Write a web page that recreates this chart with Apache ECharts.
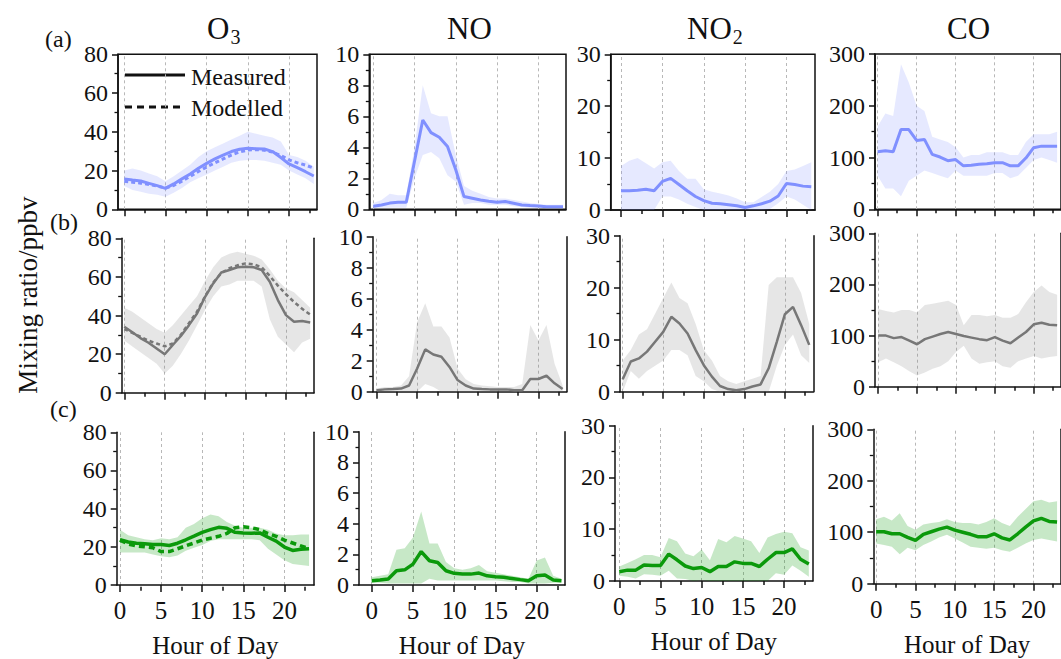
<!DOCTYPE html>
<html><head><meta charset="utf-8">
<script src="https://cdn.jsdelivr.net/npm/echarts@6/dist/echarts.min.js"></script>
<style>html,body{margin:0;padding:0;background:#fff;}#c{width:1061px;height:659px;}</style>
</head><body><div id="c"></div>
<script>
// ---------------- data ----------------
const hours = [0,1,2,3,4,5,6,7,8,9,10,11,12,13,14,15,16,17,18,19,20,21,22,23];
const xTickValues = [0,5,10,15,20];
const xMinorValues = [2.5,7.5,12.5,17.5,22.5];
const speciesKeys = ['O3','NO','NO2','CO'];
const speciesMain = ['O','NO','NO','CO'];
const speciesSub = ['3','','2',''];
const yMaxes = [80,10,30,300];
const yIntervals = [20,2,10,100];
const rowLabels = ['(a)','(b)','(c)'];
const legendNames = ['Measured','Modelled'];
const yAxisTitle = 'Mixing ratio/ppbv';
const xAxisTitle = 'Hour of Day';

// row (a)
const aO3Meas = [15.7,15.1,14.6,13.4,12.2,10.8,13.1,15.7,18.2,21.2,23.7,26.0,28.0,29.8,31.0,31.5,31.3,31.1,29.8,26.7,23.4,21.5,19.4,17.2];
const aO3Mod  = [14.5,14.0,13.5,12.8,12.0,11.0,12.3,14.5,17.0,19.5,21.8,24.0,26.0,28.0,29.6,30.6,30.8,30.5,29.5,27.8,25.5,24.0,22.8,21.3];
const aO3Lo   = [12,10,9,8,7.5,6.5,8.5,11,14,16,18,20,22,24,25,25.5,25.5,25,24,23,20,18,16,13];
const aO3Hi   = [20,21,20,18.5,17,14.5,17,20,23,27,30,32,34,36,38,40,39,38,37,35,28,27,25,22];
const aNOMeas = [0.2,0.28,0.4,0.45,0.45,3.1,5.76,4.95,4.65,4.05,2.55,0.82,0.71,0.6,0.52,0.45,0.5,0.39,0.28,0.24,0.22,0.17,0.17,0.17];
const aNOLo   = [0.05,0.1,0.1,0.1,0.1,2.0,3.5,3.7,3.3,2.2,1.8,0.3,0.4,0.4,0.3,0.3,0.3,0.2,0.15,0.1,0.1,0.1,0.1,0.1];
const aNOHi   = [0.4,0.6,1.0,0.9,0.9,4.0,8.0,6.2,6.0,6.0,3.5,1.5,1.2,1.0,0.8,0.7,0.7,0.6,0.5,0.4,0.35,0.3,0.3,0.3];
const aNO2Meas = [3.7,3.7,3.8,4.0,3.7,5.5,6.1,4.9,3.7,2.6,1.8,1.3,1.2,1.0,0.8,0.5,0.8,1.2,1.7,2.7,5.1,4.9,4.6,4.5];
const aNO2Lo   = [0,0,0,0,0,2.6,2.6,2.0,1.2,0.6,0,0,0,0,0,0,0,0,0.2,1.3,2.6,2.0,1.0,0];
const aNO2Hi   = [8.5,9.5,10,9,8,9.2,9.5,7.5,6,6,4,3.5,3.2,2.8,2.2,1.5,1.5,2.5,3.5,5,7.5,7.8,8.5,9.2];
const aCOMeas = [111,113,111,154,154,133,135,106,101,94,96,84,85,87,88,90,90,84,84,99,119,122,122,122];
const aCOLo   = [65,40,40,25,55,65,75,70,65,60,75,65,65,65,65,70,70,60,65,80,95,100,95,90];
const aCOHi   = [160,185,180,280,245,200,190,140,135,130,120,100,105,105,110,110,110,105,105,130,145,145,145,150];

// row (b)
const bO3Meas = [34.2,31.3,28.3,25.9,22.9,19.9,24.7,29.4,35,41,49.7,56.6,62.3,63.6,65,65.3,65,63.6,57.5,48,40.2,36.8,37.1,36.4];
const bO3Mod  = [33,31,29,27,25.5,24,25.5,30,36,42,50,57,62,64.5,66,67,66.5,65,60.5,55.5,51,47,43.5,40.5];
const bO3Lo   = [27,24,21,18,15,10,14,20,27,35,43,50,55,56,58,58,58,55,38,29,25,21,26,28];
const bO3Hi   = [44,42,39,36,33,31,35,40,45,50,58,65,70,72,73,72,71,69,64,58,54,52,48,44];
const bNOMeas = [0.1,0.15,0.17,0.2,0.4,1.5,2.73,2.4,2.26,1.6,0.75,0.4,0.2,0.17,0.15,0.15,0.15,0.1,0.1,0.82,0.82,1.03,0.54,0.17];
const bNOLo   = [0,0,0,0,0,0,0.5,0.3,0,0,0,0,0,0,0,0,0,0,0,0,0,0,0,0];
const bNOHi   = [0.2,0.3,0.3,0.4,1.0,4.5,5.7,4.2,4.2,3.5,1.5,0.8,0.5,0.4,0.35,0.3,0.3,0.3,0.5,4.3,3.3,4.3,1.8,0.4];
const bNO2Meas = [2.4,5.8,6.4,7.7,9.6,11.5,14.4,13.1,11.2,8.0,5.1,2.9,1.1,0.5,0.3,0.5,1.0,1.4,4.5,9.6,14.9,16.3,12.8,9.0];
const bNO2Lo   = [0,4,2.5,4,5,6,8,8,7,3,2,0.5,0,0,0,0,0,0,0,5,9,11,7,5.5];
const bNO2Hi   = [6,8,11,12,15,18,21,18,17,13,8,6,3,2,1.5,2,2.5,3,20.5,22,22,22,19,13];
const bCOMeas = [100,100,95,97,90,83,93,98,103,107,103,99,96,93,91,97,90,85,96,107,122,125,121,120];
const bCOLo   = [48,55,48,40,30,22,28,35,40,50,68,80,55,45,48,50,40,37,50,55,60,55,58,60];
const bCOHi   = [152,148,145,150,150,145,160,162,165,168,160,120,140,140,138,140,135,135,142,165,185,198,185,180];

// row (c)
const cO3Meas = [23.7,22.5,21.9,21.6,21.2,21.2,20.7,21.9,23.7,25.6,27.6,29.0,30.2,29.7,27.6,27.3,27.1,27.3,25.0,23.0,19.9,18.1,18.7,19.0];
const cO3Mod  = [23.5,21.5,20.5,20,19.5,17.5,17.5,19,20.5,22,23.5,24.5,25.5,27,30,30.5,30,29,27,25.5,23.5,22,20.5,19];
const cO3Lo   = [17,17,17,17,16,15,14.5,15.5,18,19.5,21,23,24,24,24,24,24,23.5,19,16,13,11,10.5,10];
const cO3Hi   = [29,26,25,24,23.5,24.5,24,25,30,32,35,37,36,33,31,30,30,30,29,27,26,26,26.5,26.5];
const cNOMeas = [0.28,0.32,0.39,0.93,0.99,1.36,2.18,1.58,1.47,0.93,0.76,0.71,0.71,0.78,0.6,0.54,0.5,0.43,0.35,0.28,0.6,0.65,0.32,0.28];
const cNOLo   = [0.15,0.15,0.1,0.1,0.1,0.1,0.1,0.4,0.3,0.3,0.3,0.3,0.3,0.3,0.3,0.3,0.25,0.2,0.2,0.1,0.1,0.1,0.15,0.15];
const cNOHi   = [0.5,0.6,0.7,2.3,2.4,3.1,4.8,2.7,2.7,1.5,1.1,1.0,1.1,1.3,0.9,0.8,0.7,0.6,0.5,0.4,1.6,1.8,0.6,0.4];
const cNO2Meas = [1.8,2.1,2.1,3.1,3.0,3.0,5.2,4.1,2.9,2.4,2.6,1.8,2.8,2.8,3.7,3.4,3.4,2.8,4.2,5.5,5.5,6.2,4.2,3.3];
const cNO2Lo   = [1,0.8,0.5,1.3,1.2,1.0,2.0,0.5,0.4,0,0.2,0,0,0,0,0,0,0,0,1.5,1.2,3,2,0.8];
const cNO2Hi   = [2.8,3.5,4.2,5,5,4.6,8.3,7.7,5.3,4.8,6.1,4,8.1,7.5,8.7,8.2,7.7,5.4,8.4,9.1,9.5,9.2,6.5,5.9];
const cCOMeas = [101,101,97,97,90,84,96,101,106,110,104,100,96,91,91,97,89,85,97,110,122,127,121,120];
const cCOLo   = [78,75,72,57,70,65,75,82,90,95,88,80,72,70,68,70,65,62,70,78,85,88,85,82];
const cCOHi   = [125,130,123,137,112,105,115,118,120,125,120,118,118,115,120,127,118,112,130,145,160,163,158,160];

// ---------------- layout & style ----------------
const FONT = 'Liberation Serif';
const INK = '#111';
// [left, top, right, bottom, xMin, xMax] per panel, row-major
const layout = [
  [118,54.3,317,209.3,-0.76,23.39],[369.3,54.3,566,209.3,-0.48,23.36],[610.7,54.3,815,210,-1.25,23.45],[875,54,1071.6,209.3,-0.33,23.5],
  [121.7,238.3,314,392.7,-0.32,23.47],[372.7,236.7,566.7,391.7,-0.5,23.5],[620,235.7,813.3,391.7,-0.33,23.5],[875,233.3,1069,386.7,-0.41,23.5],
  [116.7,432.3,314,586.7,-0.4,23.6],[359,431.7,565,586,-1.54,23.43],[615,425.7,812.7,581,-0.52,23.47],[873.3,429.3,1070,583.7,-0.36,23.5]
];
const rowStyles = [
  {line:'#8090ff', band:'rgba(128,144,255,0.2)', width:3, dash:[4,3]},
  {line:'#777777', band:'rgba(120,120,120,0.19)', width:2.5, dash:[4,3]},
  {line:'#0b990b', band:'rgba(0,150,0,0.22)', width:3.5, dash:[6,4]}
];

const panelData = [
  [[aO3Meas,aO3Mod,aO3Lo,aO3Hi],[aNOMeas,null,aNOLo,aNOHi],[aNO2Meas,null,aNO2Lo,aNO2Hi],[aCOMeas,null,aCOLo,aCOHi]],
  [[bO3Meas,bO3Mod,bO3Lo,bO3Hi],[bNOMeas,null,bNOLo,bNOHi],[bNO2Meas,null,bNO2Lo,bNO2Hi],[bCOMeas,null,bCOLo,bCOHi]],
  [[cO3Meas,cO3Mod,cO3Lo,cO3Hi],[cNOMeas,null,cNOLo,cNOHi],[cNO2Meas,null,cNO2Lo,cNO2Hi],[cCOMeas,null,cCOLo,cCOHi]]
];

const grids=[], xAxes=[], yAxes=[], series=[];
const axisLineStyle = {color: INK, width: 1.5};

for (let r=0;r<3;r++){
  for (let c=0;c<4;c++){
    const L = layout[r*4+c];
    const rect = {left:L[0], top:L[1], width:L[2]-L[0], height:L[3]-L[1]};
    const st = rowStyles[r];
    const [meas, mod, lo, hi] = panelData[r][c];

    const gi = grids.length;
    grids.push(Object.assign({show: r===0, borderColor: INK, borderWidth: 1.5, backgroundColor:'transparent'}, rect));
    const xi = xAxes.length;
    xAxes.push({
      gridIndex: gi, type:'value', min:L[4], max:L[5], position:'bottom',
      axisLine:{show:true, onZero:false, lineStyle:axisLineStyle},
      axisTick:{show:true, customValues:xTickValues, length:7, lineStyle:axisLineStyle},
      axisLabel:{show: r===2, customValues:xTickValues, margin:13, fontSize:25, fontFamily:FONT, color:INK},
      splitLine:{show:false},
      name: r===2 ? xAxisTitle : '', nameLocation:'middle', nameGap:48,
      nameTextStyle:{fontSize:25, fontFamily:FONT, color:INK}
    });
    const yi = yAxes.length;
    yAxes.push({
      gridIndex: gi, type:'value', min:0, max:yMaxes[c], interval:yIntervals[c], position:'left',
      axisLine:{show:true, onZero:false, lineStyle:axisLineStyle},
      axisTick:{show:true, length:6, lineStyle:axisLineStyle},
      minorTick:{show:true, splitNumber:2, length:3.5, lineStyle:{color:INK, width:1.3}},
      axisLabel:{margin:10, fontSize:24, lineHeight:20, fontFamily:FONT, color:INK},
      splitLine:{show:false}, minorSplitLine:{show:false}
    });
    if (r>0) {
      yAxes.push({gridIndex: gi, type:'value', position:'right', min:0, max:1,
        axisLine:{show:true, onZero:false, lineStyle:axisLineStyle},
        axisTick:{show:false}, axisLabel:{show:false}, splitLine:{show:false}});
    }
    // overlay grid for minor x ticks
    const gm = grids.length;
    grids.push(Object.assign({show:false}, rect));
    xAxes.push({gridIndex: gm, type:'value', min:L[4], max:L[5], position:'bottom',
      axisLine:{show:false}, axisTick:{show:true, customValues:xMinorValues, length:4, lineStyle:axisLineStyle},
      axisLabel:{show:false}, splitLine:{show:false}});
    yAxes.push({gridIndex: gm, type:'value', show:false, min:0, max:1});

    // band
    series.push({
      type:'custom', xAxisIndex:xi, yAxisIndex:yi, z:1, silent:true,
      encode:{x:0, y:[1,2]},
      data: hours.map((h,i)=>[h, lo[i], hi[i]]),
      renderItem: (function(color){
        return function(params, api){
          if (params.dataIndexInside !== 0) return null;
          const n = params.dataInsideLength, up=[], dn=[];
          for (let i=0;i<n;i++){
            const x = api.value(0,i);
            up.push(api.coord([x, api.value(2,i)]));
            dn.push(api.coord([x, api.value(1,i)]));
          }
          return {type:'polygon', shape:{points: up.concat(dn.reverse())}, style:{fill: color}};
        };
      })(st.band)
    });
    // measured
    series.push({
      type:'line', xAxisIndex:xi, yAxisIndex:yi, z:3, symbol:'none', silent:true,
      data: hours.map((h,i)=>[h, meas[i]]),
      lineStyle:{color: st.line, width: st.width},
      markLine:{silent:true, z:0, symbol:['none','none'], label:{show:false},
        lineStyle:{type:[3,3], color:'#b8b8b8', width:1},
        emphasis:{disabled:true},
        data: xTickValues.map(v=>({xAxis:v}))}
    });
    if (mod) {
      series.push({
        type:'line', xAxisIndex:xi, yAxisIndex:yi, z:2, symbol:'none', silent:true,
        data: hours.map((h,i)=>[h, mod[i]]),
        lineStyle:{color: st.line, width: st.width, type: st.dash}
      });
    }
  }
}

const titleX = [207, 447, 687, 947];
const titles = speciesMain.map((m,c)=>({
  text: speciesSub[c] ? '{n|'+m+'}{s|'+speciesSub[c]+'}' : '{n|'+m+'}',
  left: titleX[c], top: 13, padding:0,
  textStyle:{fontWeight:'normal', fontFamily:FONT, rich:{
    n:{fontSize:31, fontFamily:FONT, fontWeight:'normal', color:INK, lineHeight:34, verticalAlign:'top'},
    s:{fontSize:20, fontFamily:FONT, fontWeight:'normal', color:INK, lineHeight:20, padding:[18,0,0,1], verticalAlign:'bottom'}
  }}
}));

const rowLabelPos = [[45,39],[50,222],[50,409]];
const graphics = [];
rowLabels.forEach((t,i)=>graphics.push({type:'text', x:rowLabelPos[i][0], y:rowLabelPos[i][1],
  style:{text:t, fontSize:24, fontFamily:FONT, fill:INK, align:'left', verticalAlign:'middle', textAlign:'left', textVerticalAlign:'middle'}}));
graphics.push({type:'text', x:28, y:295, rotation:Math.PI/2,
  style:{text:yAxisTitle, fontSize:27, fontFamily:FONT, fill:INK, align:'center', verticalAlign:'middle', textAlign:'center', textVerticalAlign:'middle'}});
// legend
graphics.push({type:'line', shape:{x1:125,y1:75,x2:185,y2:75}, style:{stroke:INK, lineWidth:3}});
graphics.push({type:'line', shape:{x1:125,y1:107,x2:185,y2:107}, style:{stroke:INK, lineWidth:3, lineDash:[7,5]}});
graphics.push({type:'text', x:191, y:77, style:{text:legendNames[0], fontSize:24, fontFamily:FONT, fill:INK, align:'left', verticalAlign:'middle', textAlign:'left', textVerticalAlign:'middle'}});
graphics.push({type:'text', x:191, y:108, style:{text:legendNames[1], fontSize:24, fontFamily:FONT, fill:INK, align:'left', verticalAlign:'middle', textAlign:'left', textVerticalAlign:'middle'}});

const chart = echarts.init(document.getElementById('c'), null, {renderer:'svg'});
chart.setOption({
  animation:false,
  backgroundColor:'#fff',
  title: titles,
  grid: grids, xAxis: xAxes, yAxis: yAxes, series: series,
  graphic: graphics
});
</script></body></html>
